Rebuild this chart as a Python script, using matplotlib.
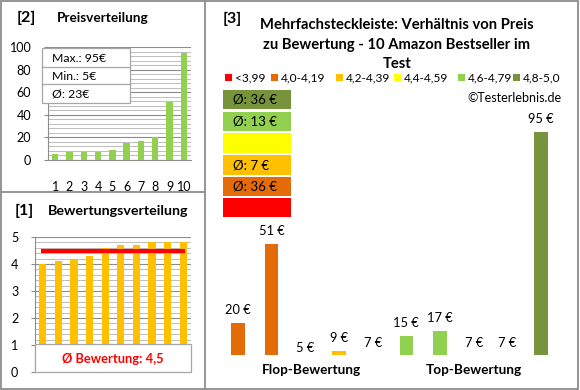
import matplotlib
matplotlib.use("Agg")
import matplotlib.pyplot as plt
from matplotlib.patches import Rectangle
from matplotlib.lines import Line2D
import numpy as np

plt.rcParams['font.family'] = ['Lato', 'DejaVu Sans']

# ---------------- data ----------------
price_ranks = [1, 2, 3, 4, 5, 6, 7, 8, 9, 10]
prices_sorted = [5, 7, 7, 7, 9, 15, 17, 20, 51, 95]
ratings_sorted = [4.0, 4.1, 4.2, 4.3, 4.6, 4.7, 4.7, 4.8, 4.8, 4.8]
avg_rating = 4.5

main_prices = [20, 51, 5, 9, 7, 15, 17, 7, 7, 95]
main_ratings = [4.0, 4.1, 4.2, 4.3, 4.6, 4.7, 4.7, 4.8, 4.8, 4.8]

class_labels = ["<3,99", "4,0-4,19", "4,2-4,39", "4,4-4,59", "4,6-4,79", "4,8-5,0"]
class_lows = [0.0, 4.0, 4.2, 4.4, 4.6, 4.8]
class_colors = ["#FF0000", "#E36C09", "#FFC000", "#FFFF00", "#92D050", "#77933C"]

W, H = 580, 390
fig = plt.figure(figsize=(W / 100, H / 100), dpi=100)
fig.patch.set_facecolor("white")


def rect(x0, y0, x1, y1):
    return [x0 / W, 1 - y1 / H, (x1 - x0) / W, (y1 - y0) / H]


def fx(x):
    return x / W


def fy(y):
    return 1 - y / H


def class_of(r):
    idx = 0
    for i, lo in enumerate(class_lows):
        if r >= lo - 1e-9:
            idx = i
    return idx


GRID_MAJ = "#8C8C8C"
GRID_MIN = "#BDBDBD"
BORDER = "#8C8C8C"

# ---------------- frame ----------------
fig.add_artist(Rectangle((fx(1), fy(389)), fx(577), (388) / H, transform=fig.transFigure,
                         fill=False, edgecolor=BORDER, linewidth=1.3))
fig.add_artist(Line2D([fx(205), fx(205)], [fy(1), fy(389)], transform=fig.transFigure,
                      color=BORDER, linewidth=1.3))
fig.add_artist(Line2D([fx(1), fx(205)], [fy(192), fy(192)], transform=fig.transFigure,
                      color=BORDER, linewidth=1.3))

# ---------------- panel [2] Preisverteilung ----------------
fig.text(fx(17), fy(18), "[2]", fontsize=11.5, fontweight="bold", va="center", ha="left")
fig.text(fx(57), fy(18), "Preisverteilung", fontsize=9.8, fontweight="bold", va="center", ha="left")

ax2 = fig.add_axes(rect(48, 47, 191, 160))
ax2.bar(price_ranks, prices_sorted, width=0.45, color="#92D050", zorder=3)
ax2.set_xlim(0.5, 10.5)
ax2.set_ylim(0, 100)
ax2.set_yticks(np.arange(0, 101, 20))
ax2.set_yticks(np.arange(0, 101, 4), minor=True)
ax2.set_xticks(price_ranks)
ax2.grid(which="major", axis="y", color=GRID_MAJ, linewidth=0.8, zorder=0)
ax2.grid(which="minor", axis="y", color=GRID_MIN, linewidth=0.7, zorder=0)
for s in ["top", "right"]:
    ax2.spines[s].set_visible(False)
ax2.spines["left"].set_color(GRID_MAJ)
ax2.spines["bottom"].set_color(GRID_MAJ)
ax2.tick_params(axis="y", which="major", length=3, color=GRID_MAJ, labelsize=9, pad=9)
ax2.tick_params(axis="y", which="minor", length=0)
ax2.tick_params(axis="x", length=0, labelsize=9, pad=15)

# info box
fig.add_artist(Rectangle((fx(42), fy(103)), (130 - 42) / W, (103 - 48) / H, transform=fig.transFigure,
                         facecolor="white", edgecolor="#A6A6A6", linewidth=0.9, zorder=5))
for yy in (67, 84):
    fig.add_artist(Line2D([fx(42), fx(130)], [fy(yy), fy(yy)], transform=fig.transFigure,
                          color="#A6A6A6", linewidth=0.9, zorder=6))
pmax, pmin = max(prices_sorted), min(prices_sorted)
pavg = round(sum(prices_sorted) / len(prices_sorted))
for yy, txt in zip((58, 76, 94), (f"Max.: {pmax}€", f"Min.: {pmin}€", f"Ø: {pavg}€")):
    fig.text(fx(52), fy(yy), txt, fontsize=8.8, va="center", ha="left", zorder=7)

# ---------------- panel [1] Bewertungsverteilung ----------------
fig.text(fx(15), fy(211), "[1]", fontsize=11.5, fontweight="bold", va="center", ha="left")
fig.text(fx(48), fy(211), "Bewertungsverteilung", fontsize=10.3, fontweight="bold", va="center", ha="left")

ax1 = fig.add_axes(rect(35, 237, 191, 372))
ax1.bar(price_ranks, ratings_sorted, width=0.45, color="#FFC000", zorder=3)
ax1.plot([0.9, 10.1], [avg_rating, avg_rating], color="#FF0000", linewidth=3, zorder=4,
         solid_capstyle="butt")
ax1.set_xlim(0.5, 10.5)
ax1.set_ylim(0, 5)
ax1.set_yticks(np.arange(0, 6, 1))
ax1.set_yticks(np.arange(0, 5.01, 0.2), minor=True)
ax1.set_xticks([])
ax1.grid(which="major", axis="y", color=GRID_MAJ, linewidth=0.8, zorder=0)
ax1.grid(which="minor", axis="y", color=GRID_MIN, linewidth=0.7, zorder=0)
for s in ["top", "right", "bottom"]:
    ax1.spines[s].set_visible(False)
ax1.spines["left"].set_color(GRID_MAJ)
ax1.tick_params(axis="y", which="major", length=3, color=GRID_MAJ, labelsize=9, pad=9)
ax1.tick_params(axis="y", which="minor", length=0)

fig.add_artist(Rectangle((fx(35), fy(372)), (191 - 35) / W, (372 - 344) / H, transform=fig.transFigure,
                         facecolor="white", edgecolor="#A6A6A6", linewidth=0.9, zorder=5))
fig.text(fx(113), fy(359), f"Ø Bewertung: {str(avg_rating).replace('.', ',')}", fontsize=9.3,
         fontweight="bold", color="#FF0000", va="center", ha="center", zorder=7)

# ---------------- panel [3] main chart ----------------
fig.text(fx(223), fy(19), "[3]", fontsize=11.5, fontweight="bold", va="center", ha="left")
title_lines = ["Mehrfachsteckleiste: Verhältnis von Preis",
               "zu Bewertung - 10 Amazon Bestseller im",
               "Test"]
for yy, line in zip((25, 45, 64), title_lines):
    fig.text(fx(397), fy(yy), line, fontsize=10.6, fontweight="bold", va="center", ha="center")

# legend row
leg_sq_x = [225, 271, 336, 394, 458, 513]
for x0, lab, col in zip(leg_sq_x, class_labels, class_colors):
    fig.add_artist(Rectangle((fx(x0), fy(81)), 7 / W, 7 / H, transform=fig.transFigure,
                             facecolor=col, edgecolor="none"))
    fig.text(fx(x0 + 10), fy(77.5), lab, fontsize=8.6, va="center", ha="left")

fig.text(fx(562), fy(98), "©Testerlebnis.de", fontsize=9, va="center", ha="right")

ax3 = fig.add_axes(rect(221, 80, 558, 355))
xs = np.arange(len(main_prices))
bar_cols = [class_colors[class_of(r)] for r in main_ratings]
ax3.bar(xs, main_prices, width=0.4, color=bar_cols, zorder=3)
ax3.set_xlim(-0.5, 9.5)
ax3.set_ylim(7.5, 115.3)
ax3.axis("off")
for x, p in zip(xs, main_prices):
    ax3.annotate(f"{p} €", (x, p), xytext=(0, 13), textcoords="offset pixels",
                 ha="center", va="center", fontsize=9.3, annotation_clip=False)

ax3.text(2.2, -0.055, "Flop-Bewertung", transform=ax3.get_xaxis_transform(), fontsize=9.8,
         fontweight="bold", ha="center", va="center")
ax3.text(7.0, -0.055, "Top-Bewertung", transform=ax3.get_xaxis_transform(), fontsize=9.8,
         fontweight="bold", ha="center", va="center")

# class average boxes (top = best class)
box_y = [(90, 109), (112, 131), (133, 153), (155, 175), (177, 196), (198, 217)]
for (y0, y1), ci in zip(box_y, range(len(class_colors) - 1, -1, -1)):
    fig.add_artist(Rectangle((fx(223), fy(y1)), (291 - 223) / W, (y1 - y0) / H,
                             transform=fig.transFigure, facecolor=class_colors[ci], edgecolor="none"))
    lo = class_lows[ci]
    hi = class_lows[ci + 1] if ci + 1 < len(class_lows) else 9
    members = [p for p, r in zip(main_prices, main_ratings) if lo - 1e-9 <= r < hi - 1e-9]
    if members:
        avg = round(sum(members) / len(members))
        fig.text(fx(233), fy((y0 + y1) / 2), f"Ø: {avg} €", fontsize=9.5, va="center", ha="left")

fig.savefig("out.png", dpi=100)
